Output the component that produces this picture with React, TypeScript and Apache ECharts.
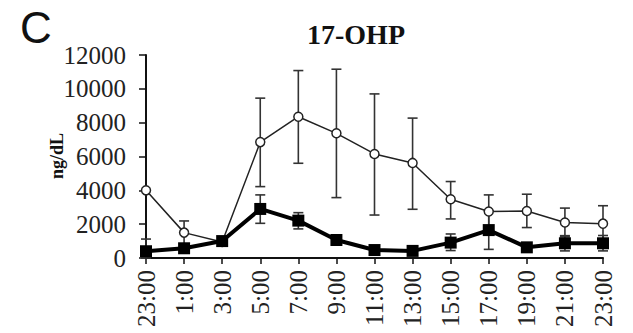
import React, { useEffect, useRef } from "react";
import * as echarts from "echarts";

const times = ["23:00", "1:00", "3:00", "5:00", "7:00", "9:00", "11:00", "13:00", "15:00", "17:00", "19:00", "21:00", "23:00"];
const yTicks = [0, 2000, 4000, 6000, 8000, 10000, 12000];

const openMean = [4000, 1500, 950, 6850, 8350, 7370, 6150, 5620, 3470, 2750, 2780, 2100, 2030];
const openLow = [4000, 810, 800, 4220, 5600, 3570, 2540, 2880, 2310, 1770, 1800, 1250, 970];
const openHigh = [4000, 2190, 1100, 9450, 11080, 11160, 9700, 8270, 4520, 3730, 3770, 2950, 3090];

const filledMean = [400, 575, 1000, 2900, 2210, 1065, 470, 420, 910, 1650, 630, 870, 870];
const filledLow = [0, 450, 850, 2050, 1720, 920, 380, 330, 440, 510, 500, 420, 420];
const filledHigh = [1120, 700, 1150, 3730, 2680, 1210, 560, 510, 1420, 2790, 760, 1320, 1330];

const serif = "'Liberation Serif', 'Times New Roman', serif";

function errorSeries(low: number[], high: number[], z: number) {
  return {
    type: "custom",
    z,
    data: low.map((l, i) => [i, l, high[i]]),
    encode: { x: 0, y: [1, 2] },
    renderItem: (params: any, api: any) => {
      const i = api.value(0);
      const lo = api.coord([i, api.value(1)]);
      const hi = api.coord([i, api.value(2)]);
      const hw = 5;
      const style = { stroke: "#333", lineWidth: 1.6 };
      return {
        type: "group",
        children: [
          { type: "line", shape: { x1: lo[0], y1: lo[1], x2: hi[0], y2: hi[1] }, style },
          { type: "line", shape: { x1: hi[0] - hw, y1: hi[1], x2: hi[0] + hw, y2: hi[1] }, style },
          { type: "line", shape: { x1: lo[0] - hw, y1: lo[1], x2: lo[0] + hw, y2: lo[1] }, style },
        ],
      };
    },
  };
}

export default function App() {
  const ref = useRef<HTMLDivElement>(null);
  useEffect(() => {
    if (!ref.current) return;
    const chart = echarts.init(ref.current, null, { renderer: "svg" });
    chart.setOption({
      animation: false,
      backgroundColor: "#fff",
      graphic: [
        {
          type: "text",
          x: 20,
          y: 27,
          style: { text: "C", font: "44px 'Liberation Sans', Arial, sans-serif", fill: "#111", textVerticalAlign: "middle" },
        },
        {
          type: "text",
          x: 356,
          y: 34,
          style: { text: "17-OHP", font: `bold 28px ${serif}`, fill: "#111", textAlign: "center", textVerticalAlign: "middle" },
        },
        {
          type: "text",
          x: 57,
          y: 156,
          rotation: Math.PI / 2,
          style: { text: "ng/dL", font: `bold 18px ${serif}`, fill: "#111", textAlign: "center", textVerticalAlign: "middle" },
        },
      ],
      grid: { left: 146, right: 30, top: 55, bottom: 75, containLabel: false },
      xAxis: {
        type: "category",
        data: times,
        boundaryGap: false,
        axisLine: { lineStyle: { color: "#111", width: 2 } },
        axisTick: { alignWithLabel: true, length: 6, lineStyle: { color: "#111", width: 1.5 } },
        axisLabel: { rotate: 90, interval: 0, margin: 12, fontFamily: serif, fontSize: 25, color: "#222" },
        splitLine: { show: false },
      },
      yAxis: {
        type: "value",
        min: 0,
        max: 12000,
        interval: 2000,
        axisLine: { show: true, lineStyle: { color: "#111", width: 2 } },
        axisTick: { show: true, length: 7, lineStyle: { color: "#111", width: 1.5 } },
        axisLabel: {
          margin: 20,
          fontFamily: serif,
          fontSize: 25,
          color: "#222",
          formatter: (v: number) => (yTicks.includes(v) ? String(v) : ""),
        },
        splitLine: { show: false },
      },
      series: [
        errorSeries(openLow, openHigh, 1),
        errorSeries(filledLow, filledHigh, 1),
        {
          type: "line",
          z: 3,
          data: openMean,
          symbol: "circle",
          symbolSize: 9,
          lineStyle: { color: "#222", width: 1.5 },
          itemStyle: { color: "#fff", borderColor: "#222", borderWidth: 1.5 },
        },
        {
          type: "line",
          z: 4,
          data: filledMean,
          symbol: "rect",
          symbolSize: 12,
          lineStyle: { color: "#000", width: 4 },
          itemStyle: { color: "#000" },
        },
      ],
    });
    return () => chart.dispose();
  }, []);
  return <div ref={ref} style={{ width: 633, height: 333, position: "absolute", left: 0, top: 0 }} />;
}
